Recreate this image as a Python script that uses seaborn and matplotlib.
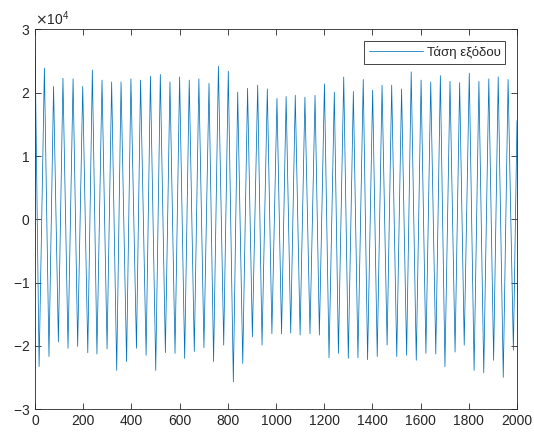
import numpy as np
import pandas as pd
import matplotlib
matplotlib.use("Agg")
import matplotlib.pyplot as plt
from matplotlib.ticker import ScalarFormatter, MultipleLocator
import seaborn as sns

# Output voltage: sample index and value (x10^4) of each crest and trough
peak_idx = [0, 39, 77, 116, 158, 198, 238, 278, 318, 357, 398, 438, 479, 520,
            560, 600, 640, 680, 722, 761, 802, 841, 882, 924, 964, 1004, 1042,
            1080, 1120, 1162, 1201, 1242, 1281, 1321, 1362, 1401, 1440, 1480,
            1521, 1561, 1602, 1642, 1682, 1722, 1762, 1802, 1842, 1883, 1922,
            1963, 2000]
peak_val = [2.80, 2.39, 2.10, 2.23, 2.22, 2.10, 2.36, 2.20, 2.17, 2.17, 2.22,
            2.20, 2.26, 2.29, 2.17, 2.25, 2.20, 2.22, 2.15, 2.42, 2.34, 2.01,
            2.07, 2.12, 2.06, 1.91, 1.94, 1.96, 1.93, 1.96, 2.14, 2.01, 2.25,
            2.02, 2.21, 2.04, 2.12, 2.12, 2.06, 2.33, 2.20, 2.17, 2.27, 2.18,
            2.16, 2.31, 2.18, 2.22, 2.25, 2.21, 1.56]
trough_idx = [17, 58, 97, 137, 177, 219, 257, 299, 339, 380, 421, 461, 501, 541,
              581, 621, 661, 701, 741, 783, 823, 862, 902, 942, 983, 1023, 1061,
              1100, 1141, 1180, 1220, 1259, 1300, 1340, 1380, 1420, 1461, 1501,
              1542, 1582, 1622, 1663, 1701, 1743, 1781, 1822, 1862, 1903, 1943,
              1985]
trough_val = [-2.33, -2.17, -1.94, -2.04, -2.01, -2.11, -2.13, -2.05, -2.39,
              -2.25, -2.04, -2.15, -2.39, -2.11, -2.12, -2.20, -2.09, -2.03,
              -2.25, -1.99, -2.57, -2.28, -1.86, -1.99, -1.81, -1.81, -1.80,
              -1.83, -1.81, -1.83, -2.19, -2.12, -2.20, -2.19, -2.22, -2.17,
              -1.99, -2.17, -2.15, -2.23, -2.12, -2.13, -2.33, -2.10, -1.99,
              -2.39, -2.43, -2.23, -2.50, -2.07]
series_label = "Τάση εξόδου"

df = pd.DataFrame({
    "n": peak_idx + trough_idx,
    "v": np.array(peak_val + trough_val) * 1e4,
}).sort_values("n")

sns.set_theme(style="white")
plt.rcParams["font.family"] = ["Liberation Sans", "DejaVu Sans"]
plt.rcParams["axes.unicode_minus"] = False

fig = plt.figure(figsize=(5.34, 4.36), dpi=100)
ax = fig.add_axes([35 / 534, 1 - 409 / 436, (517 - 35) / 534, (409 - 29.5) / 436])

sns.lineplot(data=df, x="n", y="v", ax=ax, color="#0072BD", linewidth=0.55,
             label=series_label, sort=False)

ax.set_xlim(0, 2000)
ax.set_ylim(-3e4, 3e4)
ax.xaxis.set_major_locator(MultipleLocator(200))
ax.yaxis.set_major_locator(MultipleLocator(1e4))
fmt = ScalarFormatter(useMathText=True)
fmt.set_powerlimits((0, 0))
ax.yaxis.set_major_formatter(fmt)
ax.yaxis.get_offset_text().set_fontsize(10)
ax.yaxis.get_offset_text().set_color("#262626")

ax.set_xlabel("")
ax.set_ylabel("")
for s in ax.spines.values():
    s.set_color("#262626")
    s.set_linewidth(0.6)
ax.tick_params(direction="in", length=4, width=0.6, colors="#262626",
               labelsize=10, top=True, right=True, bottom=True, left=True,
               labelcolor="#262626")

leg = ax.legend(loc="upper right", fontsize=9.5, handlelength=4.1,
                fancybox=False, framealpha=1, borderaxespad=0.9,
                borderpad=0.35, handletextpad=0.3)
leg.get_frame().set_edgecolor("#262626")
leg.get_frame().set_linewidth(0.6)

fig.savefig("out.png", dpi=100, facecolor="white")
